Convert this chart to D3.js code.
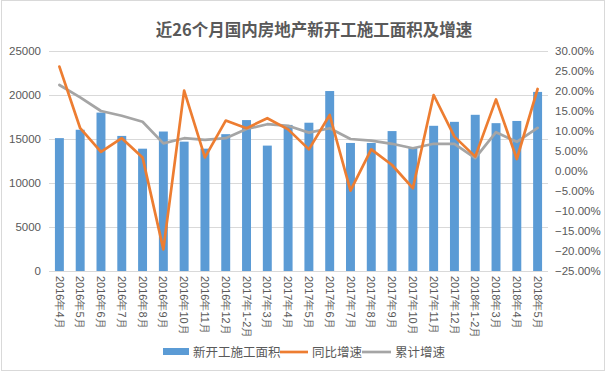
<!DOCTYPE html>
<html>
<head>
<meta charset="utf-8">
<script src="https://cdn.jsdelivr.net/npm/d3@7"></script>
<style>
  body { margin: 0; background: #fff; }
  svg { display: block; font-family: "Noto Sans CJK SC", "Liberation Sans", sans-serif; }
</style>
</head>
<body>
<svg id="canvas" width="606" height="373"></svg>
<script>
// months shown on the x axis
const months = [
  "2016年4月", "2016年5月", "2016年6月", "2016年7月", "2016年8月", "2016年9月",
  "2016年10月", "2016年11月", "2016年12月", "2017年1-2月", "2017年3月", "2017年4月",
  "2017年5月", "2017年6月", "2017年7月", "2017年8月", "2017年9月", "2017年10月",
  "2017年11月", "2017年12月", "2018年1-2月", "2018年3月", "2018年4月", "2018年5月"
]

// 新开工施工面积 (left axis)
const area = [
  15100, 16050, 18000, 15350, 13900, 15850, 14700, 13900, 15550, 17150, 14250, 16600,
  16850, 20450, 14550, 14550, 15900, 14000, 16500, 16950, 17750, 16800, 17050, 20350
]

// 同比增速, percent (right axis)
const yoy = [
  26.1, 10.7, 4.8, 8.2, 3.4, -19.6, 20.1, 3.4, 12.6, 10.7, 13.2, 10.4,
  5.4, 14.0, -4.9, 5.4, 1.5, -4.3, 19.0, 8.6, 3.6, 17.9, 3.0, 20.5
]

// 累计增速, percent (right axis)
const cumulative = [
  21.5, 18.4, 15.0, 13.8, 12.3, 6.9, 8.2, 7.8, 8.2, 10.5, 11.7, 11.3,
  9.6, 10.7, 8.0, 7.6, 6.8, 5.7, 6.8, 6.8, 3.2, 9.7, 7.3, 10.8
]

const leftTicks = [0, 5000, 10000, 15000, 20000, 25000]
const rightTicks = [-25, -20, -15, -10, -5, 0, 5, 10, 15, 20, 25, 30]

const seriesNames = ["新开工施工面积", "同比增速", "累计增速"]
const title = "近26个月国内房地产新开工施工面积及增速"

const blue = "#5B9BD5"
const orange = "#ED7D31"
const gray = "#A5A5A5"
const textColor = "#595959"

const canvas = d3.select("#canvas")

// chart border
canvas.append("rect")
  .attr("x", 1.5).attr("y", 0.5)
  .attr("width", 603).attr("height", 370)
  .attr("fill", "#fff")
  .attr("stroke", "#D9D9D9")

const plotLeft = 49
const plotRight = 548
const plotTop = 51
const plotBottom = 271

const xScale = d3.scaleBand()
  .domain(months)
  .range([plotLeft, plotRight])
  .paddingInner(0.57)
  .paddingOuter(0.285)

const yLeft = d3.scaleLinear()
  .domain([0, 25000])
  .range([plotBottom, plotTop])

const yRight = d3.scaleLinear()
  .domain([-25, 30])
  .range([plotBottom, plotTop])

// title
canvas.append("text")
  .attr("x", 314)
  .attr("y", 36)
  .attr("text-anchor", "middle")
  .attr("font-size", "16.5px")
  .attr("font-weight", "bold")
  .attr("fill", textColor)
  .text(title)

// gridlines
canvas.append("g")
  .selectAll("line")
  .data(leftTicks)
  .enter()
  .append("line")
  .attr("x1", plotLeft)
  .attr("x2", plotRight)
  .attr("y1", (d) => Math.round(yLeft(d)) + 0.5)
  .attr("y2", (d) => Math.round(yLeft(d)) + 0.5)
  .attr("stroke", "#D9D9D9")
  .attr("stroke-width", 1)

// left axis
const leftAxis = d3.axisLeft(yLeft)
  .tickValues(leftTicks)
  .tickSize(0)
  .tickPadding(8)
  .tickFormat(d3.format("d"))

canvas.append("g")
  .attr("id", "y-axis")
  .attr("transform", `translate(${plotLeft}, 0)`)
  .call(leftAxis)
  .call((g) => g.select(".domain").remove())
  .selectAll("text")
  .attr("fill", textColor)
  .attr("font-size", "11.5px")
  .attr("font-family", "'Liberation Sans', sans-serif")

// right axis
const rightAxis = d3.axisRight(yRight)
  .tickValues(rightTicks)
  .tickSize(0)
  .tickPadding(7)
  .tickFormat((d) => d3.format(".2f")(d) + "%")

canvas.append("g")
  .attr("id", "y2-axis")
  .attr("transform", `translate(${plotRight}, 0)`)
  .call(rightAxis)
  .call((g) => g.select(".domain").remove())
  .selectAll("text")
  .attr("fill", textColor)
  .attr("font-size", "11.5px")
  .attr("font-family", "'Liberation Sans', sans-serif")

// bars
canvas.append("g")
  .selectAll("rect")
  .data(area)
  .enter()
  .append("rect")
  .attr("x", (d, i) => xScale(months[i]))
  .attr("y", (d) => yLeft(d))
  .attr("width", xScale.bandwidth())
  .attr("height", (d) => yLeft(0) - yLeft(d))
  .attr("fill", blue)

// lines
const lineGen = d3.line()
  .x((d, i) => xScale(months[i]) + xScale.bandwidth() / 2)
  .y((d) => yRight(d))

canvas.append("path")
  .datum(cumulative)
  .attr("d", lineGen)
  .attr("fill", "none")
  .attr("stroke", gray)
  .attr("stroke-width", 2.7)
  .attr("stroke-linejoin", "round")
  .attr("stroke-linecap", "round")

canvas.append("path")
  .datum(yoy)
  .attr("d", lineGen)
  .attr("fill", "none")
  .attr("stroke", orange)
  .attr("stroke-width", 2.7)
  .attr("stroke-linejoin", "round")
  .attr("stroke-linecap", "round")

// x axis labels, rotated to read top to bottom
const xAxis = d3.axisBottom(xScale)
  .tickSize(0)
  .tickPadding(0)

canvas.append("g")
  .attr("id", "x-axis")
  .attr("transform", `translate(0, ${plotBottom})`)
  .call(xAxis)
  .call((g) => g.select(".domain").remove())
  .selectAll("text")
  .attr("transform", "rotate(90)")
  .attr("x", 5)
  .attr("y", 0)
  .attr("dy", "0.35em")
  .attr("text-anchor", "start")
  .attr("fill", textColor)
  .attr("font-size", "11px")

// legend
const legend = canvas.append("g").attr("font-size", "12.5px").attr("fill", textColor)

legend.append("rect")
  .attr("x", 163).attr("y", 348)
  .attr("width", 26).attr("height", 7)
  .attr("fill", blue)
legend.append("text").attr("x", 193).attr("y", 356.5).text(seriesNames[0])

legend.append("line")
  .attr("x1", 280).attr("x2", 308)
  .attr("y1", 352).attr("y2", 352)
  .attr("stroke", orange).attr("stroke-width", 2.7)
legend.append("text").attr("x", 312).attr("y", 356.5).text(seriesNames[1])

legend.append("line")
  .attr("x1", 362).attr("x2", 391)
  .attr("y1", 352).attr("y2", 352)
  .attr("stroke", gray).attr("stroke-width", 2.7)
legend.append("text").attr("x", 395).attr("y", 356.5).text(seriesNames[2])
</script>
</body>
</html>
